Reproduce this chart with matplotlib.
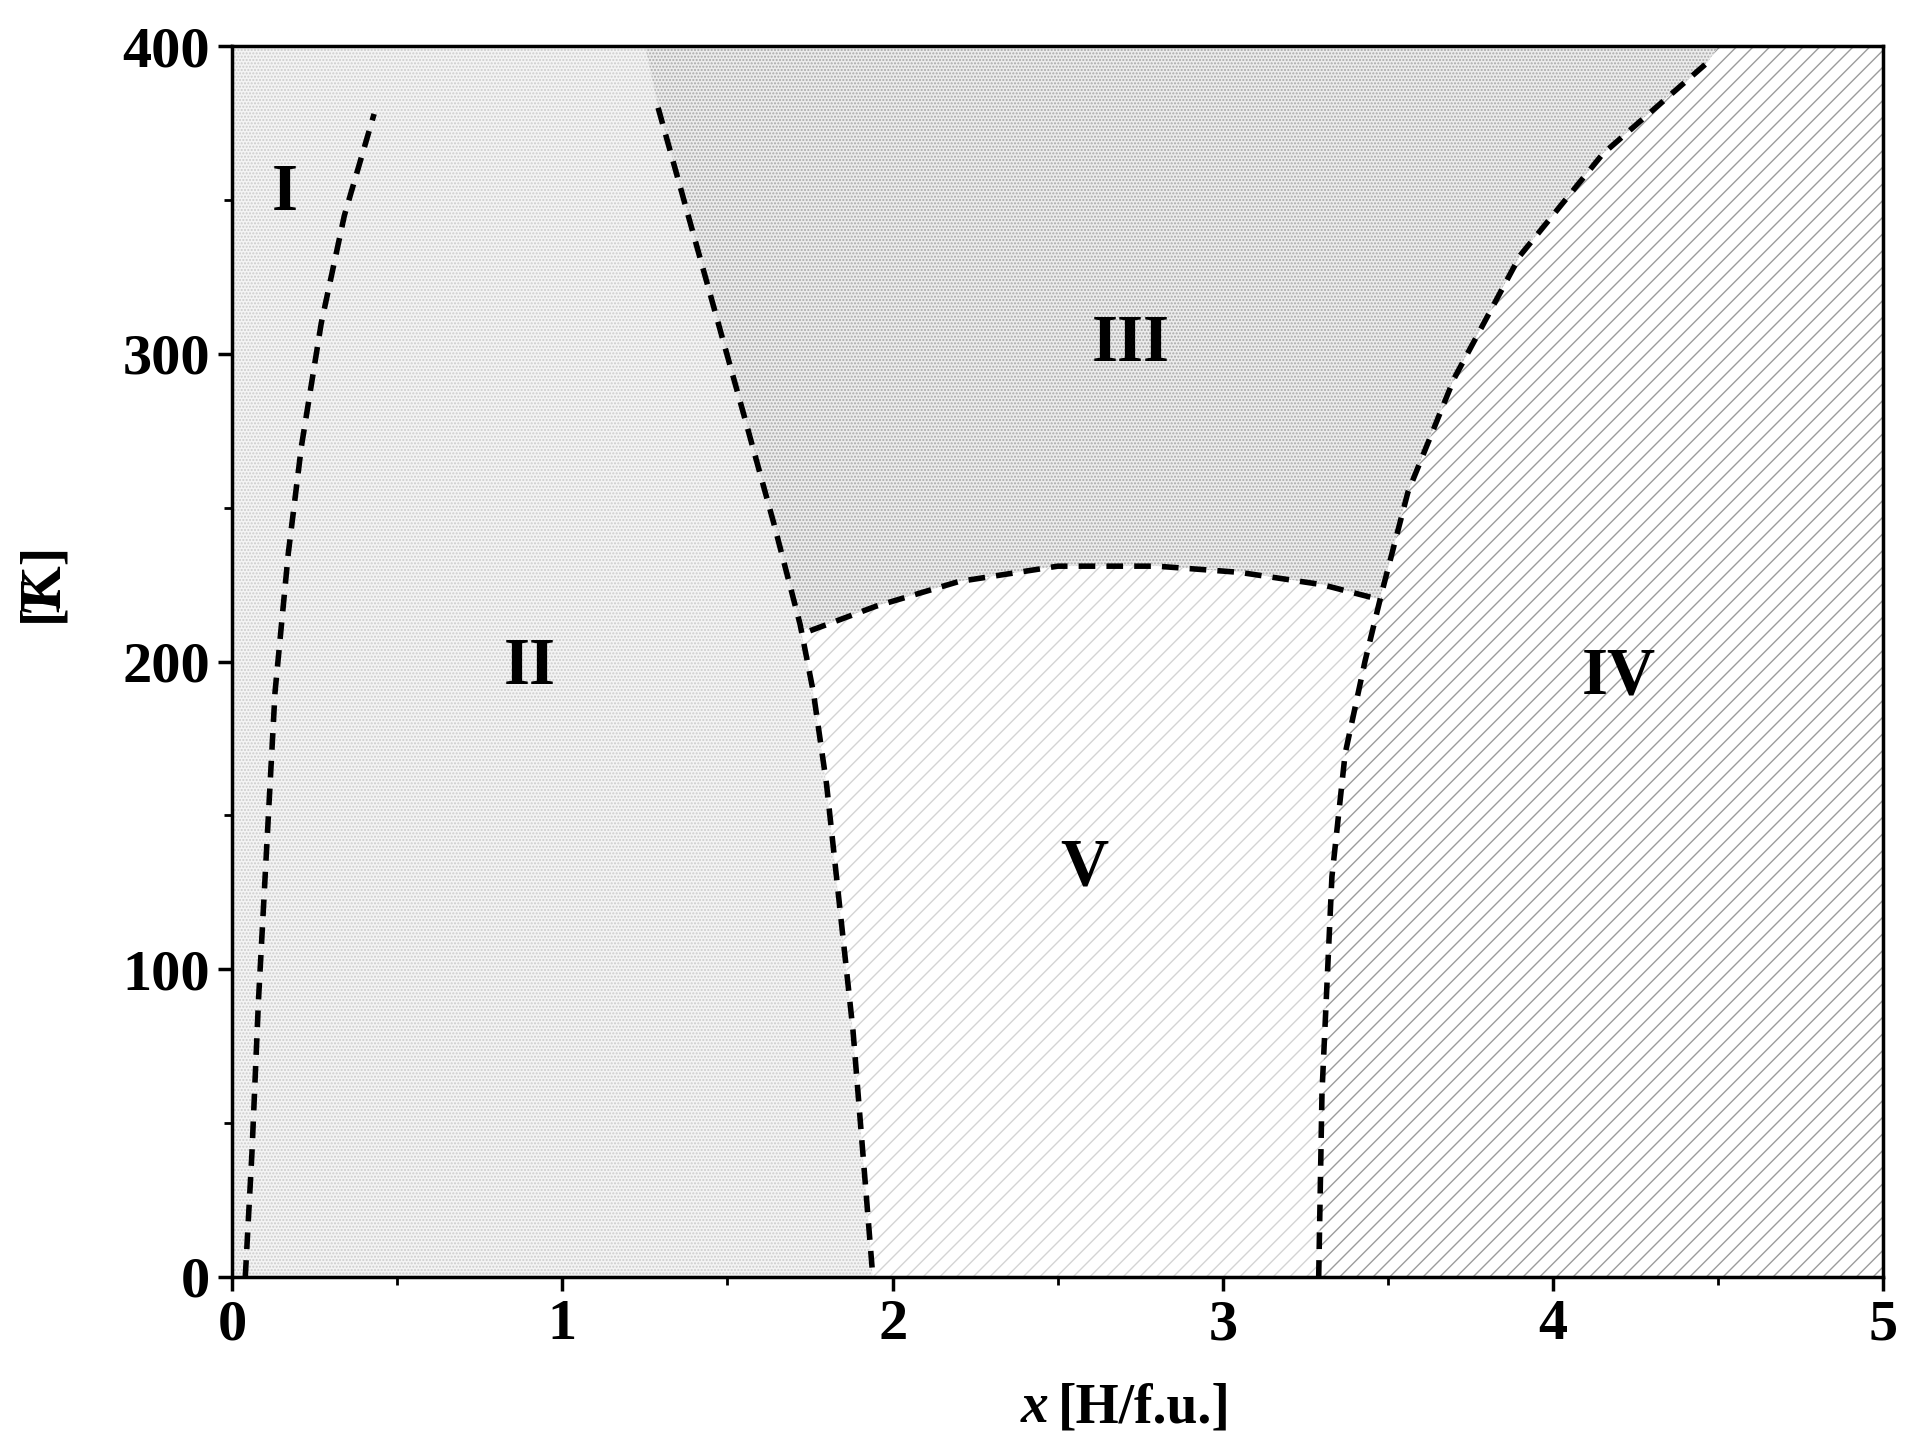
import matplotlib
matplotlib.use("Agg")
import matplotlib.pyplot as plt
import numpy as np
from matplotlib.ticker import MultipleLocator

plt.rcParams['font.family'] = ['Liberation Serif']
plt.rcParams['font.weight'] = 'bold'
plt.rcParams['hatch.linewidth'] = 1.0

# boundary curves (x [H/f.u.], T [K])
a_x = [0.04, 0.06, 0.08, 0.10, 0.13, 0.17, 0.21, 0.27, 0.34, 0.43]
a_t = [0, 40, 90, 130, 190, 235, 270, 310, 345, 378]
b_x = [1.29, 1.42, 1.55, 1.64, 1.72, 1.76, 1.80, 1.84, 1.88, 1.91, 1.94]
b_t = [380, 330, 280, 245, 212, 190, 160, 120, 80, 40, 0]
c_x = [1.75, 1.95, 2.2, 2.5, 2.8, 3.05, 3.3, 3.48]
c_t = [210, 218, 226, 231, 231, 229, 225, 220]
d_x = [3.29, 3.30, 3.33, 3.37, 3.43, 3.48, 3.56, 3.70, 3.90, 4.15, 4.47]
d_t = [0, 60, 130, 170, 200, 222, 255, 292, 332, 365, 395]

labels = ['I', 'II', 'III', 'IV', 'V']
label_x = [0.16, 0.9, 2.72, 4.2, 2.58]
label_t = [352, 198, 303, 195, 133]

fig = plt.figure(figsize=(19.18, 14.46), dpi=100)
ax = fig.add_axes([0.121, 0.117, 0.861, 0.851])
ax.set_xlim(0, 5)
ax.set_ylim(0, 400)

bx, bt = np.array(b_x), np.array(b_t)
dx, dt = np.array(d_x), np.array(d_t)
up_b = bt >= 212
lo_b = bt <= 212
up_d = dt >= 222
lo_d = dt <= 222

# region I+II
px = [0, 1.94] + list(bx[::-1]) + [1.25, 0]
pt = [0, 0] + list(bt[::-1]) + [400, 400]
ax.fill(px, pt, facecolor='#f4f4f4', hatch='.....', edgecolor='#cccccc', lw=0, zorder=1)
# region III
px = [1.25] + list(bx[up_b]) + c_x + list(dx[up_d]) + [4.5]
pt = [400] + list(bt[up_b]) + c_t + list(dt[up_d]) + [400]
ax.fill(px, pt, facecolor='#ececec', hatch='.....', edgecolor='#a8a8a8', lw=0, zorder=1)
# region V
px = list(bx[lo_b]) + [3.29] + list(dx[lo_d][1:]) + c_x[::-1]
pt = list(bt[lo_b]) + [0] + list(dt[lo_d][1:]) + c_t[::-1]
ax.fill(px, pt, facecolor='white', hatch='//', edgecolor='#d4d4d4', lw=0, zorder=1)
# region IV
px = list(dx) + [4.5, 5, 5]
pt = list(dt) + [400, 400, 0]
ax.fill(px, pt, facecolor='white', hatch='//', edgecolor='#9c9c9c', lw=0, zorder=1)

for xs, ts in [(a_x, a_t), (b_x, b_t), (c_x, c_t), (d_x, d_t)]:
    ax.plot(xs, ts, color='black', lw=4, ls=(0, (3, 2)), zorder=3)

for s, x, t in zip(labels, label_x, label_t):
    ax.text(x, t, s, fontsize=48, fontweight='bold', ha='center', va='center', zorder=4)

ax.xaxis.set_major_locator(MultipleLocator(1))
ax.xaxis.set_minor_locator(MultipleLocator(0.5))
ax.yaxis.set_major_locator(MultipleLocator(100))
ax.yaxis.set_minor_locator(MultipleLocator(50))
ax.tick_params(which='major', direction='out', length=10, width=2.5, labelsize=42, pad=6)
ax.tick_params(which='minor', direction='out', length=6, width=2)
for s in ax.spines.values():
    s.set_linewidth(2.5)

cx = 0.5 * (0.121 + 0.982)
fig.text(cx - 0.005, 0.008, 'x', fontsize=40, fontweight='bold', fontstyle='italic',
         ha='right', va='bottom')
fig.text(cx, 0.008, '[H/f.u.]', fontsize=40, fontweight='bold', ha='left', va='bottom')
fig.text(0.022, 0.60, 'T', fontsize=40, fontweight='bold', fontstyle='italic', rotation=90,
         ha='center', va='top')
fig.text(0.022, 0.57, '[K]', fontsize=40, fontweight='bold', rotation=90,
         ha='center', va='bottom')
fig.savefig('out.png', dpi=100)
